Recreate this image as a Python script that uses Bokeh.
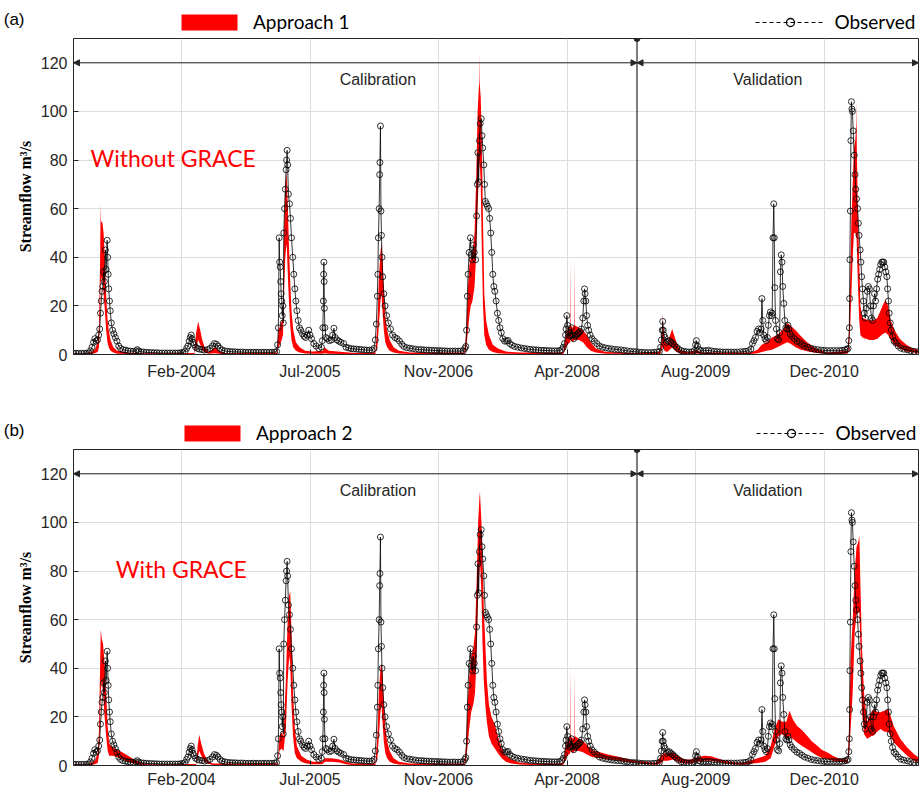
import pandas as pd
from bokeh.plotting import figure
from bokeh.layouts import column
from bokeh.models import (ColumnDataSource, Range1d, FixedTicker, DatetimeTickFormatter,
                          Label, Arrow, NormalHead, Span, Legend, LegendItem)
from bokeh.embed import file_html
from bokeh.resources import INLINE

# ---------------- data ----------------
period_start = "2003-01-01"
split_date = "2009-01-01"
period_end = "2012-01-01"
tick_dates = ["2004-02-25", "2005-07-09", "2006-11-21", "2008-04-04", "2009-08-17", "2010-12-30"]
flow_ticks = [0, 20, 40, 60, 80, 100, 120]
arrow_level = 120

obs_date = [
    # 2003
    "2003-01-01", "2003-01-11", "2003-01-21", "2003-02-01", "2003-02-11", "2003-02-21", "2003-03-01", "2003-03-08",
    "2003-03-14", "2003-03-20", "2003-03-25", "2003-03-30", "2003-04-04", "2003-04-09", "2003-04-13", "2003-04-16",
    "2003-04-19", "2003-04-22", "2003-04-25", "2003-04-28", "2003-05-01", "2003-05-05", "2003-05-08", "2003-05-12",
    "2003-05-14", "2003-05-16", "2003-05-18", "2003-05-21", "2003-05-24", "2003-05-28", "2003-06-02", "2003-06-07",
    "2003-06-13", "2003-06-19", "2003-06-26", "2003-07-03", "2003-07-12", "2003-07-22", "2003-08-01", "2003-08-11",
    "2003-08-21", "2003-09-01", "2003-09-06", "2003-09-12", "2003-09-21", "2003-10-01", "2003-10-11", "2003-10-21",
    "2003-11-01", "2003-11-11", "2003-11-21", "2003-12-01", "2003-12-11", "2003-12-21",
    # 2004
    "2004-01-01", "2004-01-11", "2004-01-21", "2004-02-01", "2004-02-11", "2004-02-21", "2004-03-01", "2004-03-10",
    "2004-03-16", "2004-03-21", "2004-03-26", "2004-03-30", "2004-04-03", "2004-04-06", "2004-04-10", "2004-04-15",
    "2004-04-20", "2004-04-27", "2004-05-05", "2004-05-15", "2004-05-25", "2004-06-05", "2004-06-15", "2004-06-25",
    "2004-07-02", "2004-07-10", "2004-07-16", "2004-07-24", "2004-08-01", "2004-08-11", "2004-08-21", "2004-09-01",
    "2004-09-11", "2004-09-21", "2004-10-01", "2004-10-11", "2004-10-21", "2004-11-01", "2004-11-11", "2004-11-21",
    "2004-12-01", "2004-12-11", "2004-12-21",
    # 2005
    "2005-01-01", "2005-01-11", "2005-01-21", "2005-02-01", "2005-02-11", "2005-02-21", "2005-03-01", "2005-03-05",
    "2005-03-08", "2005-03-11", "2005-03-13", "2005-03-15", "2005-03-17", "2005-03-19", "2005-03-21", "2005-03-23",
    "2005-03-25", "2005-03-27", "2005-03-29", "2005-04-01", "2005-04-04", "2005-04-07", "2005-04-09", "2005-04-11",
    "2005-04-13", "2005-04-16", "2005-04-20", "2005-04-24", "2005-04-28", "2005-05-03", "2005-05-07", "2005-05-11",
    "2005-05-15", "2005-05-19", "2005-05-24", "2005-05-29", "2005-06-03", "2005-06-10", "2005-06-16", "2005-06-22",
    "2005-06-28", "2005-07-04", "2005-07-09", "2005-07-15", "2005-07-24", "2005-08-02", "2005-08-12", "2005-08-22",
    "2005-08-26", "2005-08-28", "2005-08-30", "2005-08-31", "2005-09-01", "2005-09-02", "2005-09-03", "2005-09-05",
    "2005-09-09", "2005-09-14", "2005-09-22", "2005-09-30", "2005-10-05", "2005-10-10", "2005-10-15", "2005-10-22",
    "2005-10-29", "2005-11-06", "2005-11-17", "2005-11-26", "2005-12-06", "2005-12-16", "2005-12-26",
    # 2006
    "2006-01-05", "2006-01-15", "2006-01-25", "2006-02-05", "2006-02-15", "2006-02-25", "2006-03-07", "2006-03-15",
    "2006-03-20", "2006-03-24", "2006-03-28", "2006-03-30", "2006-04-01", "2006-04-04", "2006-04-06", "2006-04-07",
    "2006-04-09", "2006-04-11", "2006-04-13", "2006-04-15", "2006-04-18", "2006-04-22", "2006-04-27", "2006-05-03",
    "2006-05-10", "2006-05-18", "2006-05-26", "2006-06-04", "2006-06-13", "2006-06-22", "2006-07-01", "2006-07-09",
    "2006-07-20", "2006-08-01", "2006-08-12", "2006-08-24", "2006-09-05", "2006-09-15", "2006-09-25", "2006-10-05",
    "2006-10-15", "2006-10-25", "2006-11-05", "2006-11-15", "2006-11-25", "2006-12-05", "2006-12-15", "2006-12-25",
    # 2007
    "2007-01-05", "2007-01-15", "2007-01-25", "2007-02-05", "2007-02-15", "2007-02-25", "2007-03-03", "2007-03-07",
    "2007-03-10", "2007-03-13", "2007-03-16", "2007-03-20", "2007-03-25", "2007-03-28", "2007-04-01", "2007-04-05",
    "2007-04-09", "2007-04-14", "2007-04-18", "2007-04-21", "2007-04-23", "2007-04-26", "2007-04-29", "2007-05-02",
    "2007-05-06", "2007-05-09", "2007-05-12", "2007-05-16", "2007-05-19", "2007-05-22", "2007-05-26", "2007-05-30",
    "2007-06-04", "2007-06-08", "2007-06-12", "2007-06-16", "2007-06-20", "2007-06-24", "2007-06-28", "2007-07-03",
    "2007-07-08", "2007-07-13", "2007-07-18", "2007-07-23", "2007-07-29", "2007-08-05", "2007-08-13", "2007-08-18",
    "2007-08-25", "2007-09-03", "2007-09-13", "2007-09-25", "2007-10-08", "2007-10-20", "2007-11-01", "2007-11-12",
    "2007-11-24", "2007-12-05", "2007-12-15", "2007-12-25",
    # 2008
    "2008-01-05", "2008-01-15", "2008-01-25", "2008-02-05", "2008-02-15", "2008-02-25", "2008-03-06", "2008-03-14",
    "2008-03-20", "2008-03-25", "2008-03-29", "2008-03-31", "2008-04-03", "2008-04-06", "2008-04-10", "2008-04-14",
    "2008-04-17", "2008-04-21", "2008-04-25", "2008-04-30", "2008-05-05", "2008-05-10", "2008-05-15", "2008-05-20",
    "2008-05-25", "2008-05-30", "2008-06-04", "2008-06-08", "2008-06-11", "2008-06-13", "2008-06-16", "2008-06-19",
    "2008-06-23", "2008-06-27", "2008-07-03", "2008-07-10", "2008-07-19", "2008-07-29", "2008-08-08", "2008-08-20",
    "2008-09-01", "2008-09-12", "2008-09-24", "2008-10-06", "2008-10-18", "2008-10-31", "2008-11-12", "2008-11-24",
    "2008-12-06", "2008-12-18", "2008-12-28",
    # 2009
    "2009-01-08", "2009-01-20", "2009-02-01", "2009-02-13", "2009-02-25", "2009-03-09", "2009-03-20", "2009-03-29",
    "2009-04-03", "2009-04-06", "2009-04-09", "2009-04-11", "2009-04-13", "2009-04-16", "2009-04-20", "2009-04-25",
    "2009-05-01", "2009-05-07", "2009-05-13", "2009-05-20", "2009-05-27", "2009-06-04", "2009-06-12", "2009-06-22",
    "2009-07-02", "2009-07-12", "2009-07-22", "2009-08-02", "2009-08-12", "2009-08-17", "2009-08-20", "2009-08-24",
    "2009-08-30", "2009-09-06", "2009-09-16", "2009-09-26", "2009-10-06", "2009-10-17", "2009-10-28", "2009-11-08",
    "2009-11-20", "2009-12-01", "2009-12-12", "2009-12-22",
    # 2010
    "2010-01-02", "2010-01-14", "2010-01-26", "2010-02-07", "2010-02-19", "2010-03-01", "2010-03-11", "2010-03-20",
    "2010-03-26", "2010-04-01", "2010-04-07", "2010-04-13", "2010-04-19", "2010-04-25", "2010-04-29", "2010-05-02",
    "2010-05-05", "2010-05-09", "2010-05-14", "2010-05-19", "2010-05-23", "2010-05-27", "2010-05-31", "2010-06-04",
    "2010-06-08", "2010-06-11", "2010-06-14", "2010-06-17", "2010-06-19", "2010-06-21", "2010-06-24", "2010-06-27",
    "2010-07-01", "2010-07-06", "2010-07-10", "2010-07-13", "2010-07-16", "2010-07-19", "2010-07-22", "2010-07-26",
    "2010-07-30", "2010-08-03", "2010-08-07", "2010-08-11", "2010-08-15", "2010-08-20", "2010-08-26", "2010-09-05",
    "2010-09-15", "2010-09-25", "2010-10-05", "2010-10-15", "2010-10-28", "2010-11-10", "2010-11-22", "2010-12-05",
    "2010-12-18", "2010-12-30",
    # 2011
    "2011-01-11", "2011-01-23", "2011-02-04", "2011-02-16", "2011-02-28", "2011-03-10", "2011-03-20", "2011-03-28",
    "2011-04-02", "2011-04-05", "2011-04-07", "2011-04-08", "2011-04-09", "2011-04-11", "2011-04-13", "2011-04-15",
    "2011-04-17", "2011-04-19", "2011-04-22", "2011-04-26", "2011-04-29", "2011-05-02", "2011-05-05", "2011-05-09",
    "2011-05-12", "2011-05-15", "2011-05-19", "2011-05-22", "2011-05-25", "2011-05-28", "2011-06-01", "2011-06-04",
    "2011-06-08", "2011-06-12", "2011-06-16", "2011-06-20", "2011-06-24", "2011-06-28", "2011-07-02", "2011-07-06",
    "2011-07-10", "2011-07-14", "2011-07-18", "2011-07-22", "2011-07-26", "2011-07-30", "2011-08-03", "2011-08-07",
    "2011-08-11", "2011-08-15", "2011-08-19", "2011-08-23", "2011-08-27", "2011-08-31", "2011-09-03", "2011-09-06",
    "2011-09-09", "2011-09-13", "2011-09-17", "2011-09-22", "2011-09-28", "2011-10-05", "2011-10-14", "2011-10-24",
    "2011-11-05", "2011-11-19", "2011-12-01", "2011-12-15", "2011-12-31",
]
obs_flow = [
    # 2003
    0.5, 0.5, 0.5, 0.5, 0.5, 0.5, 0.6, 1.5,
    3, 5, 6.5, 5.5, 6, 8, 10.5, 17,
    22, 26, 28, 34, 30, 43, 35, 47,
    40, 33, 27, 22, 18, 13, 10, 8.5,
    7, 5.5, 3.5, 2.5, 2, 1.8, 1.5, 1.4,
    1.3, 1.5, 2, 1.4, 1.1, 1.0, 0.9, 0.8,
    0.8, 0.7, 0.7, 0.6, 0.6, 0.6,
    # 2004
    0.6, 0.6, 0.6, 0.6, 0.6, 0.7, 0.8, 1.2,
    2.5, 3.5, 5.5, 7, 8, 6.5, 5, 4,
    3, 2.5, 2.2, 2, 1.8, 2, 2.5, 3.5,
    4.5, 4.2, 3.5, 2.5, 1.8, 1.5, 1.3, 1.2,
    1.1, 1.1, 1.0, 1.0, 1.0, 0.9, 0.9, 0.9,
    0.9, 0.9, 0.9,
    # 2005
    0.9, 0.9, 0.9, 0.9, 0.9, 1.0, 1.2, 4,
    11, 48, 38, 36, 30, 25, 22, 16,
    20, 13, 50, 60, 68, 76, 80, 84,
    78, 66, 62, 56, 48, 40, 33, 27,
    22, 18, 14, 11, 10, 8.5, 7.5, 7,
    8, 10, 8, 6.5, 4.5, 3.5, 2.5, 3,
    5.7, 11, 22, 33, 38, 30, 19, 11,
    7, 6.5, 5.7, 6, 8, 10.8, 7, 6,
    5.5, 5, 4.5, 3, 2.7, 2.4, 2.3,
    # 2006
    2.2, 2.1, 2.0, 1.9, 1.8, 1.8, 1.8, 2.5,
    6, 12.5, 24, 33, 48, 60, 74, 79,
    94, 59, 49, 40, 32, 25, 20, 16,
    13, 10.5, 8, 7, 6.5, 5.5, 4.2, 3.3,
    2.8, 2.6, 2.4, 2.2, 2.0, 2.0, 1.9, 1.8,
    1.8, 1.7, 1.7, 1.6, 1.6, 1.5, 1.5, 1.4,
    # 2007
    1.4, 1.4, 1.4, 1.4, 1.4, 1.5, 2.5, 3.3,
    10, 24, 33, 42, 48, 41, 39, 45,
    42, 39, 57, 70, 83, 71, 88, 95,
    97, 90, 85, 78, 70, 63, 62, 61,
    60, 56, 50, 42, 33, 28, 26, 22,
    17, 14, 11, 9, 6.5, 5.5, 5.5, 5.8,
    4.5, 3.8, 3.3, 3, 2.7, 2.5, 2.3, 2.1,
    2, 1.9, 1.8, 1.7,
    # 2008
    1.7, 1.6, 1.6, 1.5, 1.5, 1.5, 1.6, 2,
    3, 4.5, 8, 10.5, 16, 12, 9, 7.5,
    8, 11, 8, 6.5, 7.5, 8, 8.5, 9,
    9.5, 10.5, 15, 22, 27, 25, 22, 16,
    12, 10, 8, 6.5, 5.5, 4.5, 3.5, 3,
    2.7, 2.5, 2.3, 2.1, 2, 1.9, 1.7, 1.5,
    1.3, 1.2, 1.1,
    # 2009
    1.0, 0.9, 0.8, 0.8, 0.8, 0.9, 1.0, 1.2,
    3, 6, 10, 13.6, 10, 8, 7, 5,
    5.5, 5.7, 5, 4.5, 3.8, 3, 2.2, 1.6,
    1.3, 1.1, 1.0, 1.1, 1.6, 4, 5.7, 3.5,
    2, 1.6, 1.5, 1.6, 1.7, 1.5, 1.3, 1.2,
    1.1, 1.0, 1.0, 1.0,
    # 2010
    1.0, 1.0, 1.0, 1.1, 1.2, 1.3, 1.6, 2.2,
    4.5, 5.7, 7, 9.5, 10.5, 9, 10.5, 23,
    14, 8, 6.5, 5.7, 7, 12, 16, 17.5,
    16, 17, 48, 62, 48, 27.5, 14, 10.5,
    6.5, 6, 9, 34, 41, 38, 28, 21,
    14, 11, 10.5, 12, 10.5, 8.5, 7.5, 6.5,
    5.5, 5, 4.2, 3.5, 3, 2.5, 2.2, 2,
    1.8, 1.7,
    # 2011
    1.6, 1.6, 1.6, 1.6, 1.6, 1.7, 1.9, 2.1,
    2.5, 5.7, 11, 23, 39, 59, 88, 104,
    101, 100, 92, 82, 74, 68, 64, 60,
    54, 49, 43, 38, 32, 27, 22, 17,
    15, 19, 26, 28, 27, 20, 15, 14,
    20, 25, 22, 27, 31, 33, 35, 37,
    38, 38, 38, 36, 34, 32, 27, 22,
    17, 13, 10, 7.4, 5.5, 4.7, 3.5, 2.6,
    2.2, 1.9, 1.6, 1.3, 1.2,
]

# Approach 1 (without GRACE) simulated streamflow band
band1_date = [
    "2003-01-01", "2003-03-01", "2003-03-25", "2003-04-05", "2003-04-10", "2003-04-14", "2003-04-16", "2003-04-17",
    "2003-04-18", "2003-04-21", "2003-04-24", "2003-04-28", "2003-05-03", "2003-05-08", "2003-05-13", "2003-05-18",
    "2003-05-25", "2003-06-05", "2003-06-20", "2003-08-01", "2003-10-01",
    "2004-04-15", "2004-04-22", "2004-04-30", "2004-05-08", "2004-05-16", "2004-05-25", "2004-06-10", "2004-07-05",
    "2004-07-20", "2004-08-15",
    "2005-03-03", "2005-03-08", "2005-03-18", "2005-03-26", "2005-03-30", "2005-04-04", "2005-04-08", "2005-04-09",
    "2005-04-10", "2005-04-14", "2005-04-18", "2005-04-23", "2005-04-28", "2005-05-05", "2005-05-15", "2005-05-30",
    "2005-06-20", "2005-07-20", "2005-08-28", "2005-09-03", "2005-09-20", "2005-11-15", "2005-12-31",
    "2006-03-20", "2006-03-28", "2006-04-03", "2006-04-09", "2006-04-13", "2006-04-17", "2006-04-22", "2006-04-28",
    "2006-05-05", "2006-05-15", "2006-05-30", "2006-06-20", "2006-08-01",
    "2007-03-01", "2007-03-08", "2007-03-14", "2007-03-20", "2007-03-26", "2007-04-02", "2007-04-10", "2007-04-16",
    "2007-04-22", "2007-04-27", "2007-04-29", "2007-04-30", "2007-05-01", "2007-05-04", "2007-05-08", "2007-05-13",
    "2007-05-18", "2007-05-25", "2007-06-05", "2007-06-20", "2007-07-10", "2007-08-10", "2007-10-01",
    "2008-03-20", "2008-03-28", "2008-04-05", "2008-04-16", "2008-04-17", "2008-04-18", "2008-04-25", "2008-05-02",
    "2008-05-03", "2008-05-04", "2008-05-20", "2008-06-05", "2008-06-20", "2008-07-05", "2008-07-25", "2008-09-01",
    "2008-12-31",
    "2009-04-01", "2009-04-08", "2009-04-10", "2009-04-11", "2009-04-12", "2009-04-18", "2009-04-28", "2009-05-08",
    "2009-05-18", "2009-05-25", "2009-06-05", "2009-06-18", "2009-07-15", "2009-08-20", "2009-09-10",
    "2010-03-20", "2010-04-15", "2010-05-01", "2010-05-20", "2010-06-10", "2010-07-01", "2010-07-20", "2010-08-08",
    "2010-08-20", "2010-09-10", "2010-10-01", "2010-10-25", "2010-11-20", "2010-12-20",
    "2011-01-15", "2011-03-31", "2011-04-05", "2011-04-10", "2011-04-15", "2011-04-20", "2011-04-25", "2011-04-30",
    "2011-05-04", "2011-05-05", "2011-05-06", "2011-05-10", "2011-05-15", "2011-05-20", "2011-05-28", "2011-06-10",
    "2011-06-25", "2011-07-10", "2011-07-25", "2011-08-10", "2011-08-25", "2011-09-05", "2011-09-15", "2011-09-30",
    "2011-10-20", "2011-11-15", "2011-12-10", "2011-12-31",
]
band1_low = [
    0.1, 0.1, 0.5, 1, 3, 15, 28, 30,
    30, 32, 30, 25, 18, 10, 5, 3,
    1.5, 0.8, 0.3, 0.2, 0.1,
    0.1, 3, 6, 4, 2, 0.8, 0.3, 0.5,
    0.3, 0.1,
    0.2, 3, 5, 8, 25, 40, 45, 45,
    44, 32, 22, 12, 6, 3, 1.5, 0.8,
    0.4, 0.3, 0.3, 0.5, 0.3, 0.2, 0.1,
    0.2, 3, 12, 22, 25, 18, 10, 5,
    3, 1.5, 0.8, 0.4, 0.2,
    0.2, 2, 8, 15, 20, 22, 28, 40,
    60, 75, 78, 80, 78, 70, 45, 20,
    8, 4, 2, 1, 0.5, 0.3, 0.2,
    0.2, 2, 4, 5, 6, 6, 5, 6,
    6, 6, 6, 5, 3, 1.5, 0.8, 0.3,
    0.2,
    0.2, 2, 3, 3, 3, 1.5, 1, 2,
    3, 2, 1, 0.5, 0.2, 0.4, 0.2,
    0.2, 0.5, 1, 1.5, 2, 3, 4, 5,
    4.5, 3, 2, 1.3, 0.8, 0.4,
    0.2, 0.3, 2, 10, 25, 40, 50, 50,
    48, 48, 45, 30, 15, 8, 7, 6.5,
    6, 6, 6.5, 8, 9, 8, 6, 4,
    2.5, 1.2, 0.8, 0.5,
]
band1_high = [
    0.4, 0.5, 2, 5, 12, 35, 55, 62,
    54, 55, 54, 50, 40, 25, 15, 10,
    6, 3, 1.5, 0.8, 0.5,
    0.6, 9, 13.6, 10, 6, 3, 1, 3,
    1.5, 0.5,
    0.8, 10, 13, 15, 50, 70, 74, 77,
    72, 60, 45, 30, 18, 10, 5, 3,
    1.5, 1.2, 1.5, 3, 1.5, 1, 0.6,
    0.8, 12, 32, 42, 46, 40, 28, 16,
    10, 6, 3, 1.5, 0.8,
    0.8, 8, 25, 36, 40, 42, 50, 70,
    100, 110, 112, 124, 110, 106, 90, 55,
    25, 14, 8, 4, 2.5, 1.2, 0.8,
    0.8, 7, 10, 12, 40, 12, 11, 12,
    40, 12, 11, 10, 8, 5, 2.5, 1,
    0.6,
    1, 8, 14, 17, 13, 6, 4.5, 7.5,
    10.5, 8, 4.5, 2, 0.8, 2, 0.8,
    0.8, 2, 4, 5, 7, 8, 10, 13,
    12, 10, 7.5, 5, 3, 1.5,
    0.8, 1.5, 8, 30, 55, 70, 85, 88,
    95, 105, 85, 60, 40, 20, 15, 14.5,
    14, 14, 15, 19, 22.5, 20, 14, 10,
    6.5, 4, 2.5, 2,
]

# Approach 2 (with GRACE) simulated streamflow band
band2_date = [
    "2003-01-01", "2003-03-01", "2003-03-25", "2003-04-05", "2003-04-10", "2003-04-14", "2003-04-17", "2003-04-21",
    "2003-04-26", "2003-05-02", "2003-05-08", "2003-05-14", "2003-05-20", "2003-06-01", "2003-06-20", "2003-07-10",
    "2003-08-01", "2003-08-25", "2003-09-20", "2003-10-15",
    "2004-04-22", "2004-04-28", "2004-05-04", "2004-05-12", "2004-05-22", "2004-06-06", "2004-06-25",
    "2005-03-06", "2005-03-12", "2005-03-20", "2005-03-28", "2005-04-06", "2005-04-13", "2005-04-19", "2005-04-23",
    "2005-04-28", "2005-05-04", "2005-05-11", "2005-05-19", "2005-06-05", "2005-06-25", "2005-07-20", "2005-08-25",
    "2005-09-05", "2005-10-01", "2005-11-01", "2005-11-25", "2005-12-20",
    "2006-03-20", "2006-03-28", "2006-04-03", "2006-04-09", "2006-04-13", "2006-04-17", "2006-04-22", "2006-04-28",
    "2006-05-05", "2006-05-15", "2006-05-30", "2006-06-20", "2006-08-01",
    "2007-03-01", "2007-03-08", "2007-03-14", "2007-03-20", "2007-03-28", "2007-04-05", "2007-04-12", "2007-04-18",
    "2007-04-24", "2007-04-29", "2007-05-01", "2007-05-03", "2007-05-07", "2007-05-11", "2007-05-16", "2007-05-22",
    "2007-05-28", "2007-06-05", "2007-06-15", "2007-06-28", "2007-07-10", "2007-07-25", "2007-08-10", "2007-09-01",
    "2007-10-01", "2007-11-15",
    "2008-03-20", "2008-03-28", "2008-04-05", "2008-04-16", "2008-04-17", "2008-04-18", "2008-04-27", "2008-05-03",
    "2008-05-04", "2008-05-05", "2008-05-20", "2008-06-05", "2008-06-20", "2008-07-10", "2008-08-10", "2008-09-10",
    "2008-10-25", "2008-12-01", "2008-12-31",
    "2009-02-01", "2009-03-15", "2009-04-05", "2009-04-15", "2009-05-01", "2009-05-20", "2009-06-10", "2009-07-05",
    "2009-08-01", "2009-08-25", "2009-09-20", "2009-10-15", "2009-11-10", "2009-12-10",
    "2010-01-15", "2010-02-15", "2010-04-15", "2010-05-15", "2010-06-05", "2010-06-20", "2010-07-05", "2010-07-20",
    "2010-08-05", "2010-08-17", "2010-08-30", "2010-09-15", "2010-10-05", "2010-10-24", "2010-11-12", "2010-12-02",
    "2010-12-20",
    "2011-01-10", "2011-02-05", "2011-03-03", "2011-03-31", "2011-04-06", "2011-04-12", "2011-04-20", "2011-04-28",
    "2011-05-05", "2011-05-12", "2011-05-16", "2011-05-20", "2011-05-26", "2011-06-03", "2011-06-15", "2011-07-01",
    "2011-07-11", "2011-07-25", "2011-08-06", "2011-08-20", "2011-09-07", "2011-09-26", "2011-10-22", "2011-11-17",
    "2011-12-13", "2011-12-31",
]
band2_low = [
    0.1, 0.1, 0.5, 1, 4, 15, 30, 35,
    30, 20, 12, 6, 4, 4, 3.5, 2.5,
    1.5, 0.8, 0.3, 0.1,
    0.1, 3, 6, 4, 2, 0.8, 0.2,
    0.2, 6, 7, 6, 15, 35, 45, 42,
    25, 12, 5, 3, 1.5, 0.8, 0.5, 0.5,
    1.5, 1.5, 1.2, 0.5, 0.2,
    0.2, 3, 12, 22, 25, 18, 10, 5,
    3, 1.5, 0.8, 0.4, 0.2,
    0.2, 2, 8, 15, 22, 25, 30, 45,
    70, 80, 84, 80, 70, 50, 35, 25,
    18, 12, 9, 7, 5, 3, 1.5, 0.8,
    0.4, 0.2,
    0.2, 2, 4, 5, 6, 6, 5, 6,
    6, 6, 6, 5.5, 4.5, 3.5, 3, 2.5,
    2, 1.3, 1,
    0.5, 0.3, 1, 2, 2, 2.5, 1.5, 0.8,
    0.8, 1.5, 2, 2, 1.5, 0.8,
    0.4, 0.3, 1, 1.5, 3, 8, 12, 13,
    11, 12, 11, 9.6, 8, 6.8, 5.5, 4.1,
    3.2,
    2.7, 1.8, 1.4, 1.2, 5, 15, 30, 55,
    62, 63, 63, 50, 22, 13, 11, 12,
    12.3, 14, 15, 14, 13.7, 9.6, 6.8, 4.1,
    2, 1.4,
]
band2_high = [
    0.4, 0.5, 2, 5, 14, 38, 56, 52,
    50, 42, 30, 16, 9, 7.5, 6.5, 5.5,
    4, 2.5, 1.2, 0.5,
    0.6, 8, 12.6, 9, 5, 2, 0.8,
    0.8, 12, 13.7, 12, 35, 60, 70, 71.7,
    55, 30, 15, 8, 4, 2.5, 1.5, 1.5,
    3, 3, 2.5, 1.5, 0.8,
    0.8, 12, 30, 40, 42, 38, 26, 16,
    10, 6, 3, 1.5, 0.8,
    0.8, 8, 25, 36, 45, 48, 55, 75,
    100, 110, 112.7, 108, 100, 85, 65, 50,
    35, 25, 20, 17, 12, 7, 4, 2.5,
    1.2, 0.8,
    0.8, 7, 10, 12, 42, 12, 11, 12,
    39, 12, 11, 10, 8.5, 6.5, 5.5, 4.5,
    3.5, 2.5, 2,
    1.5, 1, 4, 5, 5, 5.5, 4, 2.5,
    2.5, 3.5, 4, 3.8, 3, 2,
    1.2, 1, 3, 4, 8, 15, 19, 18,
    18, 22.5, 19, 16.4, 14.5, 12.3, 10, 8.2,
    6.5,
    5.5, 3.8, 2.7, 2.5, 15, 44, 60, 80,
    90, 92, 94.5, 75, 49, 30, 18, 22,
    23, 22, 21.9, 22.5, 23, 16.4, 11, 7.5,
    4.8, 3.4,
]

# ---------------- drawing ----------------
INK = "#262626"
RED = "#ff0000"
GRID = "#dcdcdc"
W = 920
LEFT = 73
RIGHT = 2


def ms(d):
    return pd.Timestamp(d).value / 1e6


def make_header(tag, approach, height, tag_level, legend_x, spacing):
    """Header row: panel tag on the left (as a lone left-axis label) and the legend."""
    s = figure(width=W, height=height, x_range=Range1d(0, W - LEFT - RIGHT),
               y_range=Range1d(0, height), x_axis_location=None, y_axis_location="left",
               output_backend="svg", toolbar_location=None,
               min_border_left=LEFT, min_border_right=RIGHT, min_border_top=0, min_border_bottom=0)
    s.outline_line_color = None
    s.xgrid.visible = False
    s.ygrid.visible = False
    s.background_fill_color = "white"
    s.border_fill_color = "white"
    ax = s.yaxis[0]
    ax.ticker = FixedTicker(ticks=[tag_level])
    ax.major_label_overrides = {tag_level: tag}
    ax.major_label_standoff = 43
    ax.major_tick_line_color = None
    ax.minor_tick_line_color = None
    ax.axis_line_color = None
    ax.major_label_text_font = "Liberation Sans"
    ax.major_label_text_font_size = "17px"
    ax.major_label_text_color = "black"

    # legend keys (single points outside the visible strip, so only the legend draws them)
    key = ColumnDataSource(dict(x=[-20, -10], lo=[0, 0], hi=[1, 1]))
    r_band = s.varea(x="x", y1="lo", y2="hi", source=key, fill_color=RED)
    r_line = s.line(x="x", y="lo", source=key, line_color="black", line_dash="4 3", line_width=1)
    r_dot = s.scatter(x="x", y="lo", source=key, marker="circle", size=11, fill_color=None,
                      line_color="black", line_width=1.3)
    lg = Legend(items=[LegendItem(label=approach, renderers=[r_band]),
                       LegendItem(label="Observed", renderers=[r_line, r_dot])],
                orientation="horizontal", location=(legend_x, 3), spacing=spacing,
                glyph_width=70, glyph_height=20, label_standoff=9,
                label_text_font="Lato", label_text_font_size="19px",
                label_text_color="black", label_height=20,
                border_line_color=None, background_fill_alpha=0,
                padding=0, margin=0)
    s.add_layout(lg)
    return s


def make_panel(note, note_date, band_date, band_low, band_high, height, bottom, label_standoff):
    p = figure(width=W, height=height, x_axis_type="datetime",
               x_range=Range1d(ms(period_start), ms(period_end)), y_range=Range1d(0, 130),
               output_backend="svg", toolbar_location=None,
               min_border_left=LEFT, min_border_right=RIGHT, min_border_top=2,
               min_border_bottom=bottom)
    p.background_fill_color = "white"
    p.border_fill_color = "white"
    p.outline_line_color = INK
    p.outline_line_width = 1

    xt = [ms(d) for d in tick_dates]
    p.xaxis.ticker = FixedTicker(ticks=xt)
    fmt = "%b-%Y"
    p.xaxis.formatter = DatetimeTickFormatter(
        microseconds=fmt, milliseconds=fmt, seconds=fmt, minsec=fmt, minutes=fmt,
        hourmin=fmt, hours=fmt, days=fmt, months=fmt, years=fmt)
    p.yaxis.ticker = FixedTicker(ticks=flow_ticks)
    for ax in (p.xaxis[0], p.yaxis[0]):
        ax.major_tick_in = 5
        ax.major_tick_out = 0
        ax.minor_tick_line_color = None
        ax.axis_line_color = INK
        ax.major_tick_line_color = INK
        ax.major_label_text_font = "Liberation Sans"
        ax.major_label_text_font_size = "16px"
        ax.major_label_text_color = INK
    p.xaxis.major_label_standoff = label_standoff
    p.yaxis.major_label_standoff = 6
    p.yaxis.axis_label = "Streamflow m\u00b3/s"
    p.yaxis.axis_label_text_font = "Liberation Serif"
    p.yaxis.axis_label_text_font_style = "bold"
    p.yaxis.axis_label_text_font_size = "16px"
    p.yaxis.axis_label_text_color = "black"
    p.yaxis.axis_label_standoff = 4

    p.xgrid.grid_line_color = GRID
    p.ygrid.grid_line_color = GRID

    bsrc = ColumnDataSource(dict(date=pd.to_datetime(band_date), low=band_low, high=band_high))
    p.varea(x="date", y1="low", y2="high", source=bsrc, fill_color=RED)

    osrc = ColumnDataSource(dict(date=pd.to_datetime(obs_date), flow=obs_flow))
    p.line(x="date", y="flow", source=osrc, line_color="black", line_width=0.8)
    p.scatter(x="date", y="flow", source=osrc, marker="circle", size=6,
              fill_color=None, line_color="black", line_width=0.8)

    # calibration / validation markers
    p.add_layout(Span(location=ms(split_date), dimension="height", line_color=INK, line_width=1.2))
    p.scatter(x=[ms(split_date)], y=[130], marker="circle", size=6, color=INK)
    for a, b in ((period_start, split_date), (split_date, period_end)):
        p.add_layout(Arrow(x_start=ms(a), y_start=arrow_level, x_end=ms(b), y_end=arrow_level,
                           start=NormalHead(size=6, fill_color=INK, line_color=INK),
                           end=NormalHead(size=6, fill_color=INK, line_color=INK),
                           line_color=INK, line_width=1))
    p.add_layout(Label(x=ms("2006-03-30"), y=113, text="Calibration", text_align="center",
                       text_baseline="alphabetic", text_font="Liberation Sans",
                       text_font_size="16px", text_color=INK))
    p.add_layout(Label(x=ms("2010-05-25"), y=113, text="Validation", text_align="center",
                       text_baseline="alphabetic", text_font="Liberation Sans",
                       text_font_size="16px", text_color=INK))
    p.add_layout(Label(x=ms(note_date), y=81, text=note, text_align="left",
                       text_baseline="alphabetic", text_font="Lato",
                       text_font_size="23px", text_color=RED))
    return p


head_a = make_header("(a)", "Approach 1", height=36, tag_level=17, legend_x=101, spacing=406)
pa = make_panel("Without GRACE", "2003-03-08", band1_date, band1_low, band1_high,
                height=356, bottom=38, label_standoff=8)
head_b = make_header("(b)", "Approach 2", height=55, tag_level=17, legend_x=104, spacing=404)
pb = make_panel("With GRACE", "2003-06-14", band2_date, band2_low, band2_high,
                height=343, bottom=24, label_standoff=5)

layout = column(head_a, pa, head_b, pb, spacing=0)
open("out.html", "w").write(file_html(layout, INLINE))
